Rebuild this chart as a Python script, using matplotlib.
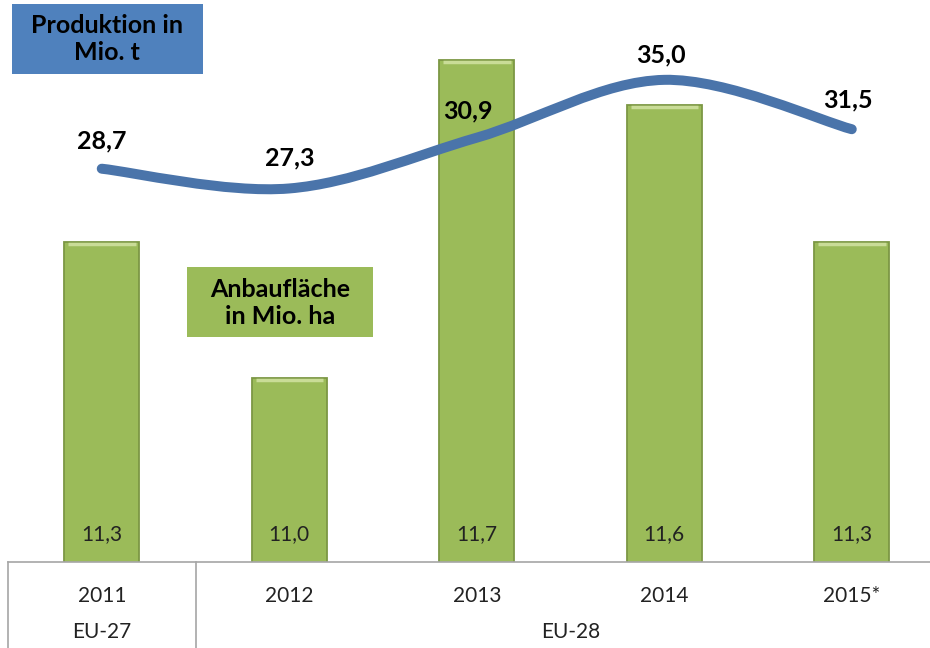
import numpy as np
import matplotlib
matplotlib.use("Agg")
import matplotlib.pyplot as plt
from matplotlib.path import Path
from matplotlib.patches import PathPatch, Rectangle

plt.rcParams['font.family'] = ['Lato', 'DejaVu Sans']

# data
jahre = ["2011", "2012", "2013", "2014", "2015*"]
gruppen = ["EU-27", "EU-28"]
flaeche = [11.3, 11.0, 11.7, 11.6, 11.3]      # Anbaufläche in Mio. ha
produktion = [28.7, 27.3, 30.9, 35.0, 31.5]   # Produktion in Mio. t

gruen = "#9BBB59"
blau = "#4A74AA"
W, H = 930, 648

fig = plt.figure(figsize=(9.3, 6.48), dpi=100)
# axes: categories 187.5 px apart, first centre at x=102, bottom at y=562
ax = fig.add_axes([8 / W, (H - 562) / H, 5 * 187.5 / W, 562 / H])
x = np.arange(len(jahre))

# bars
bars = ax.bar(x, flaeche, width=0.40, bottom=0, color=gruen,
              edgecolor="#7C9744", linewidth=1.3, zorder=2)
# light bevel along the top edge
for b in bars:
    x0, w, top = b.get_x(), b.get_width(), b.get_height()
    ax.plot([x0 + 0.02, x0 + w - 0.02], [top - 0.004, top - 0.004],
            color="#C9DC97", lw=2.5, zorder=2.5, solid_capstyle="butt")
for xi, v in zip(x, flaeche):
    ax.text(xi, 10.595 + 0.04, f"{v:.1f}".replace(".", ","), ha="center",
            va="bottom", fontsize=15, color="#222222", zorder=3)

ax.set_xlim(-0.5, 4.5)
ax.set_ylim(10.595, 11.832)
ax.set_yticks([])
ax.set_xticks(x)
ax.set_xticklabels(jahre, fontsize=15, color="#222222")
ax.tick_params(axis="x", length=0, pad=17)
for s in ["top", "right", "left"]:
    ax.spines[s].set_visible(False)
ax.spines["bottom"].set_color("#A6A6A6")
ax.spines["bottom"].set_linewidth(1.2)

# group row below the years
tr = ax.get_xaxis_transform()
for xv in [-0.5, 0.5]:
    ax.plot([xv, xv], [0, -0.2], color="#A6A6A6", lw=1.2, transform=tr,
            clip_on=False)
ax.text(0, -0.124, gruppen[0], transform=tr, ha="center", va="center",
        fontsize=15, color="#222222")
ax.text(2.5, -0.124, gruppen[1], transform=tr, ha="center", va="center",
        fontsize=15, color="#222222")

# smoothed production line on second axis
ax2 = ax.twinx()
ax2.set_ylim(0.82, 40.66)
ax2.axis("off")
pts = np.column_stack([x, produktion]).astype(float)
verts = [pts[0]]
codes = [Path.MOVETO]
n = len(pts)
for i in range(n - 1):
    p0 = pts[max(i - 1, 0)]
    p1 = pts[i]
    p2 = pts[i + 1]
    p3 = pts[min(i + 2, n - 1)]
    c1 = p1 + (p2 - p0) / 6
    c2 = p2 - (p3 - p1) / 6
    verts += [c1, c2, p2]
    codes += [Path.CURVE4] * 3
ax2.add_patch(PathPatch(Path(verts, codes), facecolor="none", edgecolor=blau,
                        lw=7.2, capstyle="round", joinstyle="round", zorder=4))

label_off = [2.0, 2.2, 1.9, 1.8, 2.1]
label_dx = [0.0, 0.0, -0.05, -0.02, -0.02]
for xi, v, o, dx in zip(x, produktion, label_off, label_dx):
    ax2.text(xi + dx, v + o, f"{v:.1f}".replace(".", ","), ha="center",
             va="center", fontsize=18, fontweight="bold", color="black",
             zorder=5)

# legend boxes
fig.patches.append(Rectangle((12 / W, 1 - 74 / H), 191 / W, 70 / H,
                             transform=fig.transFigure, facecolor="#4F81BD",
                             edgecolor="none", zorder=0))
fig.text(107 / W, 1 - 39 / H, "Produktion in\nMio. t", ha="center",
         va="center", fontsize=18, fontweight="bold", color="black",
         linespacing=1.25)
fig.patches.append(Rectangle((187 / W, 1 - 337 / H), 186 / W, 70 / H,
                             transform=fig.transFigure, facecolor=gruen,
                             edgecolor="none", zorder=0))
fig.text(280 / W, 1 - 303 / H, "Anbaufläche\nin Mio. ha", ha="center",
         va="center", fontsize=18, fontweight="bold", color="black",
         linespacing=1.25)

fig.savefig("out.png", dpi=100)
